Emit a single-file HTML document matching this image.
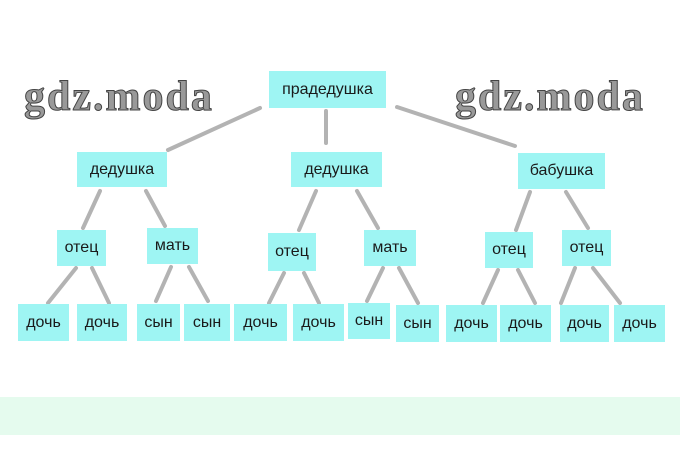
<!DOCTYPE html>
<html><head><meta charset="utf-8"><style>
body{margin:0;width:680px;height:470px;background:#fff;position:relative;overflow:hidden;font-family:"Liberation Sans",sans-serif}
.b{position:absolute;background:#9ef5f3;color:#1a1a1a;font-size:16px;display:flex;align-items:center;justify-content:center}
.w{position:absolute;font-family:"Liberation Serif",serif;font-weight:bold;font-size:42px;color:#999;-webkit-text-stroke:1px #444;letter-spacing:2px}
</style></head><body>
<div style="position:absolute;left:0;top:397px;width:680px;height:38px;background:#e5fbee"></div>
<svg style="position:absolute;left:0;top:0" width="680" height="470" stroke="#b3b3b3" stroke-width="4" stroke-linecap="round">
<line x1="260" y1="108" x2="168" y2="150"/><line x1="326" y1="111" x2="326" y2="143"/><line x1="397" y1="107" x2="515" y2="146"/>
<line x1="100" y1="191" x2="83" y2="228"/><line x1="146" y1="191" x2="165" y2="226"/>
<line x1="76" y1="268" x2="48" y2="303"/><line x1="92" y1="268" x2="109" y2="303"/>
<line x1="171" y1="267" x2="156" y2="301"/><line x1="189" y1="267" x2="208" y2="301"/>
<line x1="316" y1="191" x2="299" y2="230"/><line x1="357" y1="191" x2="378" y2="228"/>
<line x1="284" y1="273" x2="269" y2="303"/><line x1="304" y1="273" x2="319" y2="303"/>
<line x1="383" y1="268" x2="367" y2="301"/><line x1="399" y1="268" x2="418" y2="303"/>
<line x1="530" y1="192" x2="516" y2="230"/><line x1="566" y1="192" x2="588" y2="228"/>
<line x1="498" y1="270" x2="483" y2="303"/><line x1="518" y1="270" x2="535" y2="303"/>
<line x1="575" y1="268" x2="561" y2="303"/><line x1="593" y1="268" x2="620" y2="303"/>
</svg>
<div class="w" style="left:24px;top:73px">gdz.moda</div>
<div class="w" style="left:455px;top:73px">gdz.moda</div>
<div class="b" style="left:269px;top:71px;width:117px;height:37px">прадедушка</div>
<div class="b" style="left:77px;top:152px;width:90px;height:35px">дедушка</div>
<div class="b" style="left:291px;top:152px;width:91px;height:35px">дедушка</div>
<div class="b" style="left:518px;top:153px;width:87px;height:36px">бабушка</div>
<div class="b" style="left:57px;top:230px;width:49px;height:36px">отец</div>
<div class="b" style="left:147px;top:228px;width:51px;height:36px">мать</div>
<div class="b" style="left:268px;top:233px;width:48px;height:38px">отец</div>
<div class="b" style="left:364px;top:230px;width:52px;height:36px">мать</div>
<div class="b" style="left:485px;top:232px;width:48px;height:36px">отец</div>
<div class="b" style="left:562px;top:230px;width:49px;height:36px">отец</div>
<div class="b" style="left:18px;top:304px;width:51px;height:37px">дочь</div>
<div class="b" style="left:77px;top:304px;width:50px;height:37px">дочь</div>
<div class="b" style="left:137px;top:304px;width:43px;height:37px">сын</div>
<div class="b" style="left:184px;top:304px;width:46px;height:37px">сын</div>
<div class="b" style="left:234px;top:304px;width:53px;height:37px">дочь</div>
<div class="b" style="left:293px;top:304px;width:51px;height:37px">дочь</div>
<div class="b" style="left:348px;top:303px;width:42px;height:36px">сын</div>
<div class="b" style="left:396px;top:305px;width:43px;height:37px">сын</div>
<div class="b" style="left:446px;top:305px;width:51px;height:37px">дочь</div>
<div class="b" style="left:500px;top:305px;width:51px;height:37px">дочь</div>
<div class="b" style="left:560px;top:305px;width:49px;height:37px">дочь</div>
<div class="b" style="left:614px;top:305px;width:51px;height:37px">дочь</div>
</body></html>
